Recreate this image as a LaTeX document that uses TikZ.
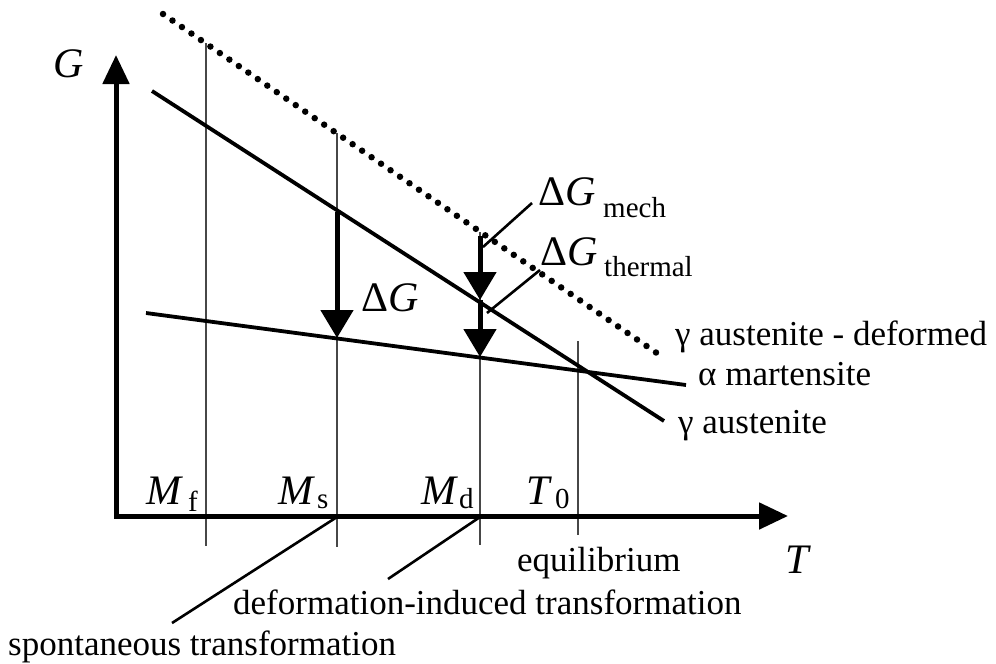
\documentclass[tikz,border=0pt]{standalone}
\usepackage{fontspec}
\setmainfont{Liberation Serif}
\usetikzlibrary{arrows.meta}
\tikzset{
  axisline/.style={line width=5pt, line join=miter},
  bigarrow/.style={line width=5pt, -{Triangle[length=28pt,width=32pt]}},
  curve/.style={line width=3.8pt},
  guide/.style={line width=2.2pt, black!72},
  leader/.style={line width=2.6pt},
  dots/.style={line width=6.5pt, line cap=round, dash pattern=on 0pt off 11.5pt},
  lbl/.style={inner sep=0pt, anchor=base west, font=\fontsize{35}{40}\selectfont},
  mth/.style={inner sep=0pt, anchor=base west, font=\fontsize{42}{46}\selectfont},
  sub/.style={inner sep=0pt, anchor=base west, font=\fontsize{29}{32}\selectfont},
}
\begin{document}
\begin{tikzpicture}[x=1pt,y=-1pt]
\useasboundingbox (0,0) rectangle (996,664);
% coordinates
\coordinate (origin) at (116,516);
\coordinate (ytip) at (116,55);
\coordinate (xtip) at (788,516);
\coordinate (dA) at (163,14);
\coordinate (dB) at (664,358);
\coordinate (gA) at (152,91);
\coordinate (gB) at (664,421);
\coordinate (aA) at (146,313);
\coordinate (aB) at (686,385);
\coordinate (mfT) at (206,43);  \coordinate (mfB) at (206,546);
\coordinate (msT) at (337,133); \coordinate (msB) at (337,547);
\coordinate (mdT) at (480,232); \coordinate (mdB) at (480,545);
\coordinate (t0T) at (578,341); \coordinate (t0B) at (578,535);
\coordinate (msG) at (337,212); \coordinate (msA) at (337,338);
\coordinate (mdD) at (480,236); \coordinate (mdG) at (480,300); \coordinate (mdA) at (480,357);
\coordinate (msX) at (337,517); \coordinate (mdX) at (480,517);
\coordinate (spE) at (172,623); \coordinate (diE) at (388,579);
\coordinate (mechS) at (532,203); \coordinate (mechE) at (483,247);
\coordinate (thS) at (540,270); \coordinate (thE) at (487,313);
% guides
\draw[guide] (mfT) -- (mfB);
\draw[guide] (msT) -- (msB);
\draw[guide] (mdT) -- (mdB);
\draw[guide] (t0T) -- (t0B);
% axes
\draw[axisline, {Triangle[length=29pt,width=26pt]}-{Triangle[length=29pt,width=26pt]}] (ytip) -- (origin) -- (xtip);
% curves
\draw[dots] (dA) -- (dB);
\draw[curve] (gA) -- (gB);
\draw[curve] (aA) -- (aB);
% Delta G arrows
\draw[bigarrow] (msG) -- (msA);
\draw[bigarrow] (mdD) -- (mdG);
\draw[bigarrow] (mdG) -- (mdA);
% leaders
\draw[leader] (mechS) -- (mechE);
\draw[leader] (thS) -- (thE);
\draw[leader] (msX) -- (spE);
\draw[leader] (mdX) -- (diE);
% labels
\node[mth] (Glab) at (53,77) {\textit{G}};
\node[mth] (Tlab) at (785,573) {\textit{T}};
\node[mth] (Mf) at (146,504) {\textit{M}};
\node[sub] (Mfs) at (188,511) {f};
\node[mth] (Ms) at (278,504) {\textit{M}};
\node[sub] (Mss) at (317,508) {s};
\node[mth] (Md) at (421,504) {\textit{M}};
\node[sub] (Mds) at (459,508) {d};
\node[mth] (T0) at (526,504) {\textit{T}};
\node[sub] (T0s) at (555,508) {0};
\node[mth] (dG) at (361,311) {Δ\textit{G}};
\node[mth] (dGm) at (538,205) {Δ\textit{G}};
\node[sub] (mech) at (603,217) {mech};
\node[mth] (dGt) at (540,265) {Δ\textit{G}};
\node[sub] (therm) at (604,276) {thermal};
\node[lbl] (gdef) at (675,345) {γ austenite - deformed};
\node[lbl] (amart) at (698,385) {α martensite};
\node[lbl] (gaus) at (678,433) {γ austenite};
\node[lbl] (equil) at (517,571) {equilibrium};
\node[lbl] (dit) at (233,614) {deformation-induced transformation};
\node[lbl] (spt) at (8,655) {spontaneous transformation};
\end{tikzpicture}
\end{document}
